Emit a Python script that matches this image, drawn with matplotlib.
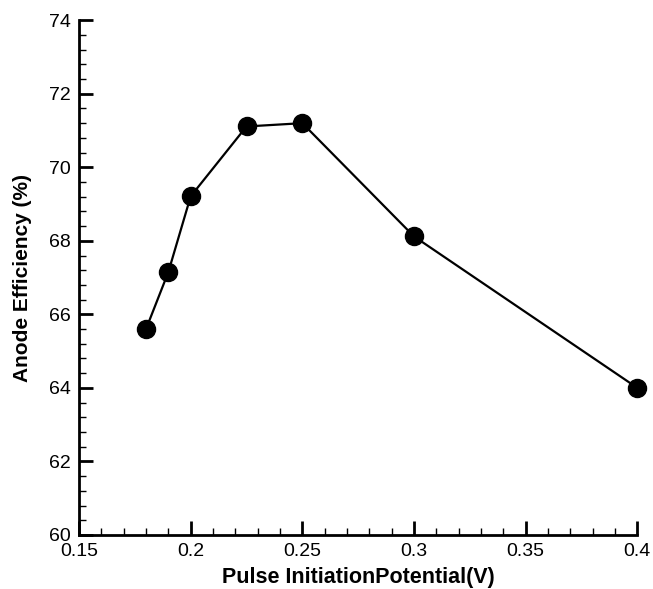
import matplotlib.pyplot as plt
from matplotlib.ticker import MultipleLocator

plt.rcParams['font.family'] = ['Liberation Sans', 'DejaVu Sans']

# Pulse initiation potential (V) vs anode efficiency (%)
potential = [0.18, 0.19, 0.20, 0.225, 0.25, 0.30, 0.40]
efficiency = [65.6, 67.15, 69.21, 71.11, 71.2, 68.12, 64.0]
xtick_labels = ['0.15', '0.2', '0.25', '0.3', '0.35', '0.4']

fig = plt.figure(figsize=(6.53, 5.89), dpi=100)
ax = fig.add_axes([0.121, 0.0917, 0.855, 0.874])

ax.plot(potential, efficiency, color='black', linewidth=1.6,
        marker='o', markersize=13, clip_on=False)

ax.set_xlim(0.15, 0.4)
ax.set_ylim(60, 74)
ax.xaxis.set_minor_locator(MultipleLocator(0.01))
ax.yaxis.set_major_locator(MultipleLocator(2))
ax.yaxis.set_minor_locator(MultipleLocator(0.4))
ax.set_xticks([0.15, 0.2, 0.25, 0.3, 0.35, 0.4])
ax.set_xticklabels(xtick_labels)

for side in ['top', 'right']:
    ax.spines[side].set_visible(False)
for side in ['left', 'bottom']:
    ax.spines[side].set_linewidth(2)

ax.tick_params(which='major', direction='in', length=10, width=2,
               labelsize=14, pad=6)
ax.tick_params(which='minor', direction='in', length=5, width=1)
ax.tick_params(axis='x', which='major', pad=6)

ax.set_xlabel('Pulse InitiationPotential(V)', fontsize=15.5, fontweight='bold',
              labelpad=5)
ax.set_ylabel('Anode Efficiency (%)', fontsize=15, fontweight='bold',
              labelpad=12)

fig.savefig('out.png', dpi=100)
